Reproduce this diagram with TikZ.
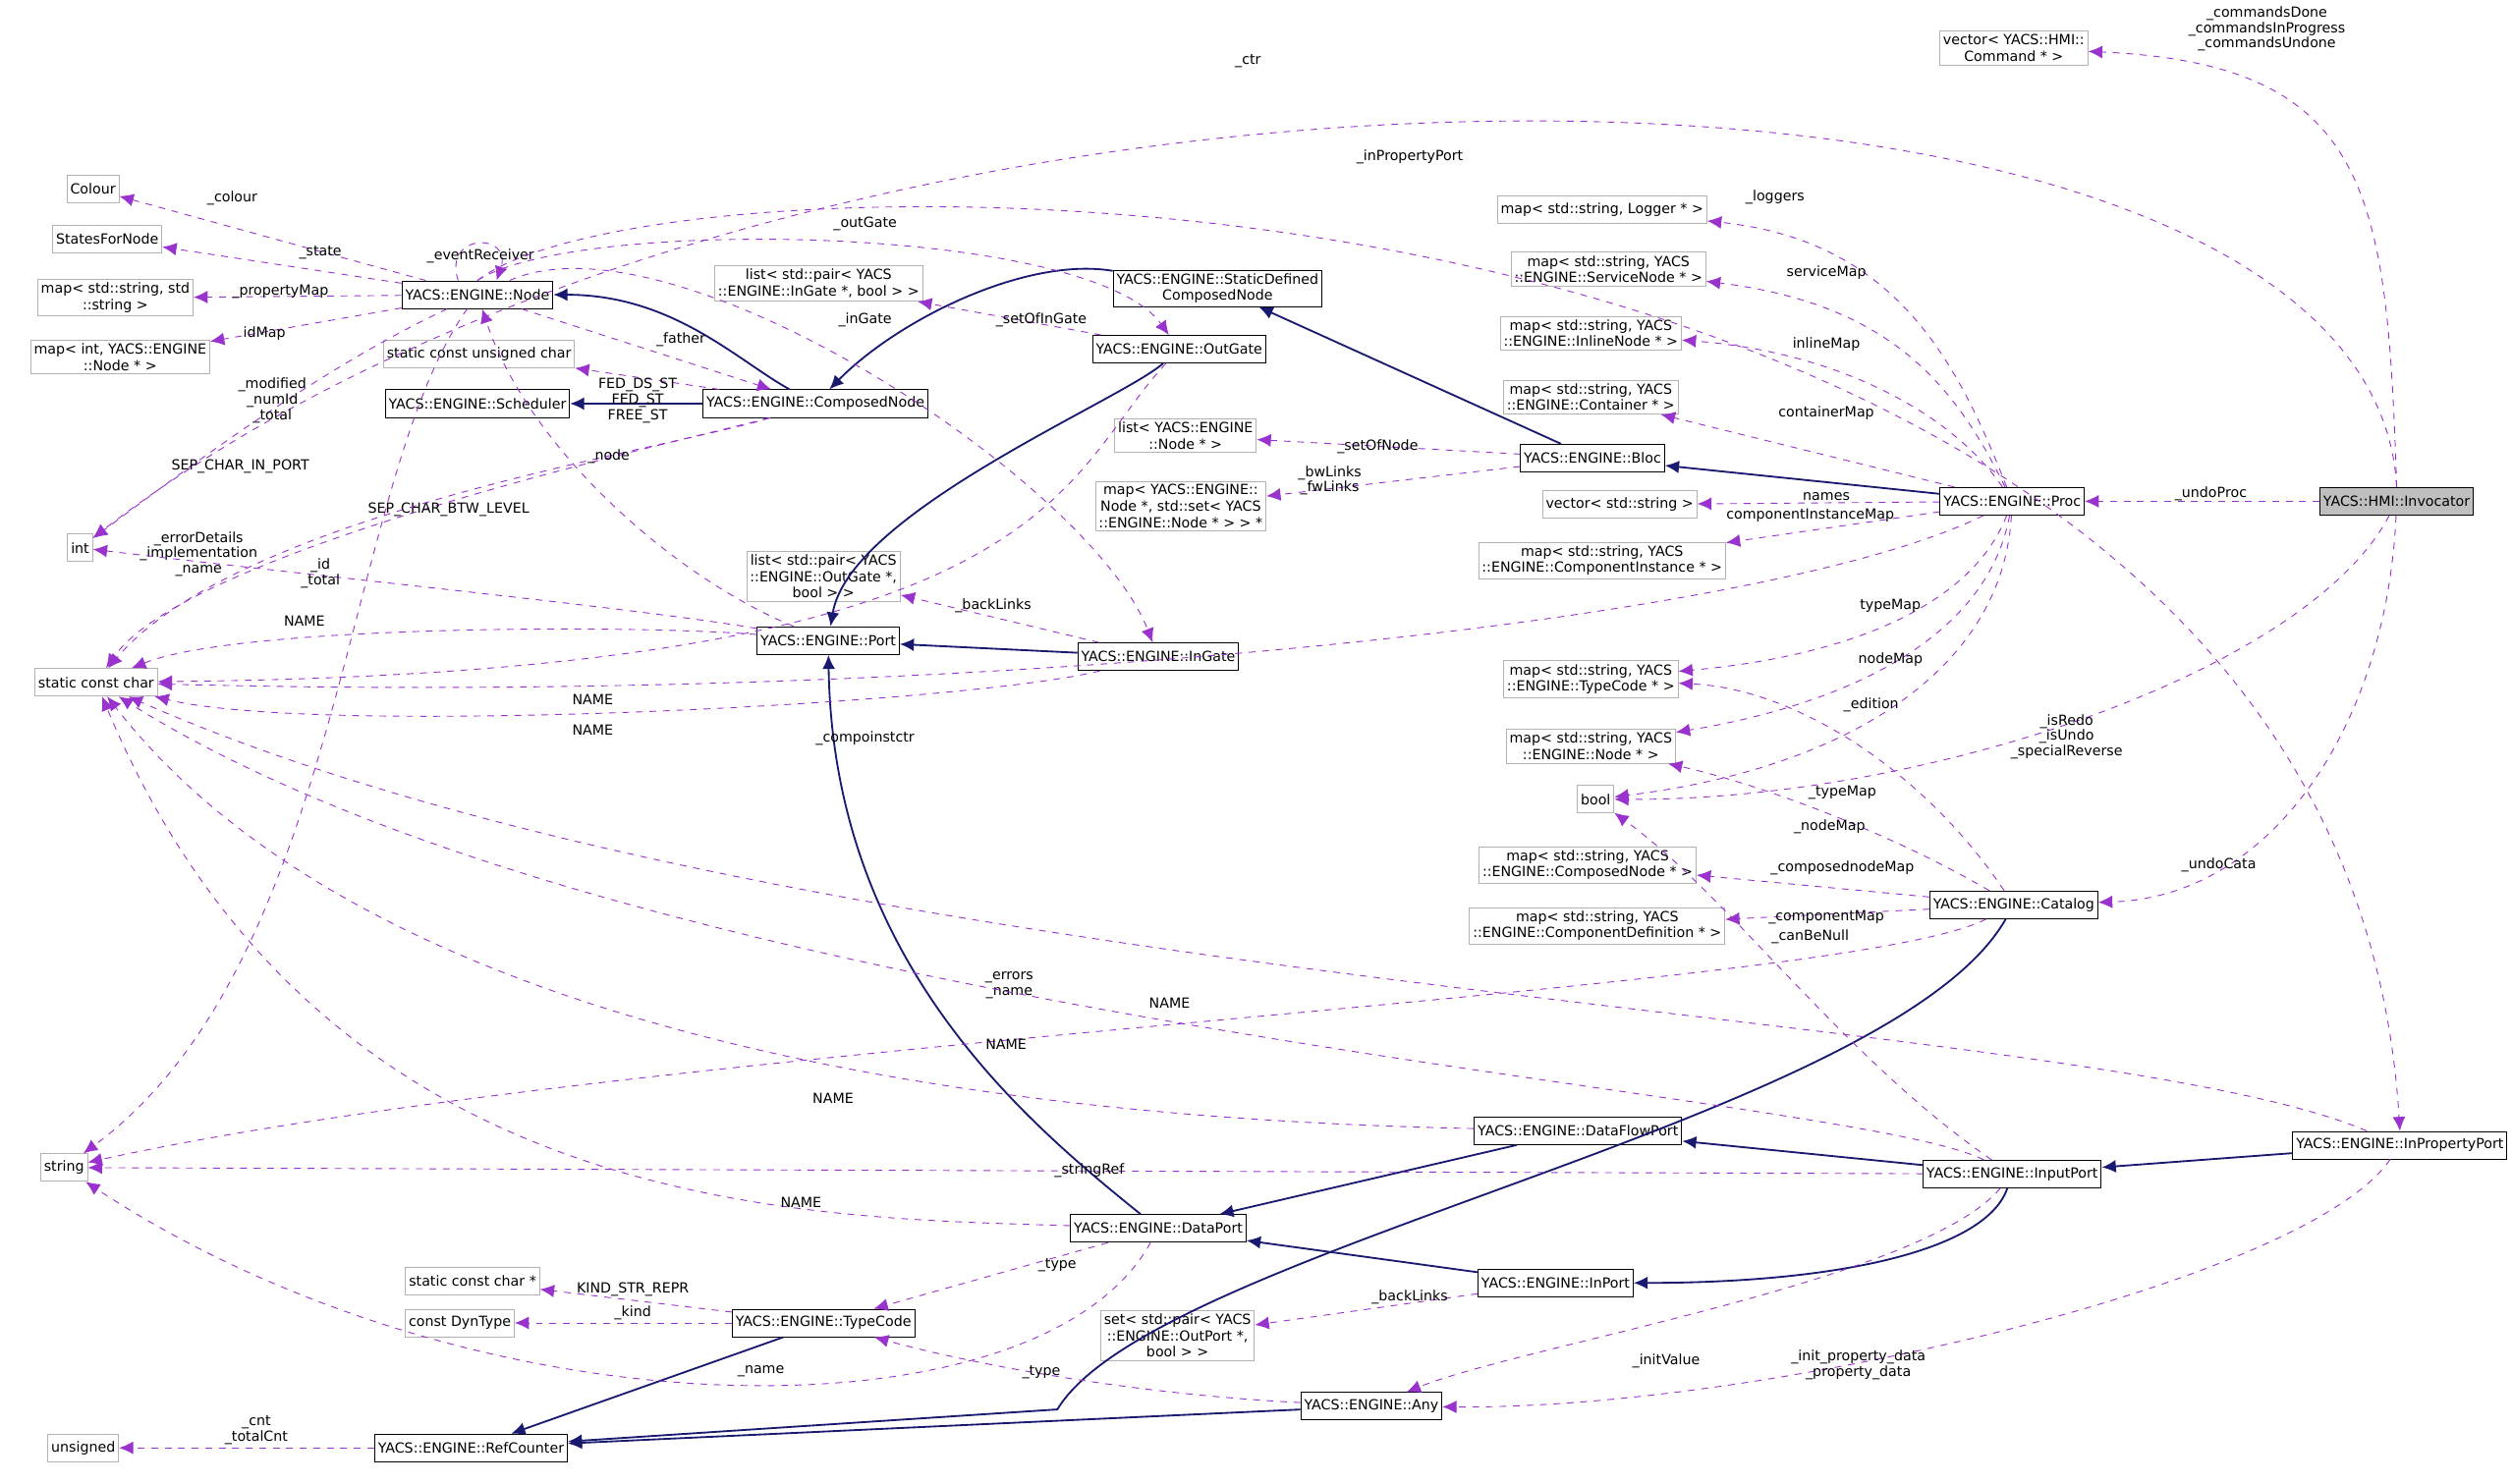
\documentclass[tikz,border=0pt]{standalone}
\usepackage{fontspec}
\setmainfont{DejaVu Sans}
\usetikzlibrary{arrows.meta}
\definecolor{navyc}{HTML}{191970}
\definecolor{usec}{HTML}{9A32CD}
\tikzset{
  cls/.style={draw=black,fill=white,font=\fontsize{6.2}{7.2}\selectfont,align=center,inner sep=1.5pt,minimum height=4.3mm},
  ext/.style={cls,draw=gray!60},
  inh/.style={draw=navyc,thick,-{Latex[length=2.2mm,width=2mm]}},
  use/.style={draw=usec,dashed,-{Latex[length=2.2mm,width=2mm]}},
  lbl/.style={font=\fontsize{6.2}{6.9}\selectfont,align=center,inner sep=0pt}
}
\begin{document}
\begin{tikzpicture}[x=0.25mm,y=-0.25mm]
\useasboundingbox (0,0) rectangle (1568,926);
% classes
\node[cls] (node) at (298,184) {YACS::ENGINE::Node};
\node[cls] (sched) at (298,252) {YACS::ENGINE::Scheduler};
\node[cls] (cnode) at (509,252) {YACS::ENGINE::ComposedNode};
\node[cls] (sdcn) at (760,180) {YACS::ENGINE::StaticDefined\\ComposedNode};
\node[cls] (outgate) at (736,218) {YACS::ENGINE::OutGate};
\node[cls] (bloc) at (994,286) {YACS::ENGINE::Bloc};
\node[cls] (proc) at (1256,313) {YACS::ENGINE::Proc};
\node[cls,fill=gray!50] (invoc) at (1496,313) {YACS::HMI::Invocator};
\node[cls] (port) at (517,400) {YACS::ENGINE::Port};
\node[cls] (ingate) at (723,410) {YACS::ENGINE::InGate};
\node[cls] (catalog) at (1257,565) {YACS::ENGINE::Catalog};
\node[cls] (inprop) at (1498,715) {YACS::ENGINE::InPropertyPort};
\node[cls] (dfport) at (985,706) {YACS::ENGINE::DataFlowPort};
\node[cls] (inputport) at (1256,733) {YACS::ENGINE::InputPort};
\node[cls] (dataport) at (723,767) {YACS::ENGINE::DataPort};
\node[cls] (inport) at (971,801) {YACS::ENGINE::InPort};
\node[cls] (tcode) at (514,826) {YACS::ENGINE::TypeCode};
\node[cls] (any) at (856,878) {YACS::ENGINE::Any};
\node[cls] (refc) at (294,904) {YACS::ENGINE::RefCounter};
% external types
\node[ext] (vcmd) at (1257,30) {vector< YACS::HMI::\\Command * >};
\node[ext] (colour) at (58,118) {Colour};
\node[ext] (states) at (67,149) {StatesForNode};
\node[ext] (mapss) at (72,186) {map< std::string, std\\::string >};
\node[ext] (mapint) at (75,223) {map< int, YACS::ENGINE\\::Node * >};
\node[ext] (scuc) at (299,221) {static const unsigned char};
\node[ext] (lpig) at (511,177) {list< std::pair< YACS\\::ENGINE::InGate *, bool > >};
\node[ext] (int) at (50,342) {int};
\node[ext] (lnode) at (740,272) {list< YACS::ENGINE\\::Node * >};
\node[ext] (mapnn) at (737,316) {map< YACS::ENGINE::\\Node *, std::set< YACS\\::ENGINE::Node * > > *};
\node[ext] (mlog) at (1000,131) {map< std::string, Logger * >};
\node[ext] (msrv) at (1004,168) {map< std::string, YACS\\::ENGINE::ServiceNode * >};
\node[ext] (minl) at (993,208) {map< std::string, YACS\\::ENGINE::InlineNode * >};
\node[ext] (mcont) at (993,248) {map< std::string, YACS\\::ENGINE::Container * >};
\node[ext] (vstr) at (1011,315) {vector< std::string >};
\node[ext] (mcomp) at (1000,350) {map< std::string, YACS\\::ENGINE::ComponentInstance * >};
\node[ext] (lpog) at (514,360) {list< std::pair< YACS\\::ENGINE::OutGate *,\\bool > >};
\node[ext] (scc) at (60,426) {static const char};
\node[ext] (mtc) at (993,424) {map< std::string, YACS\\::ENGINE::TypeCode * >};
\node[ext] (mnode) at (993,466) {map< std::string, YACS\\::ENGINE::Node * >};
\node[ext] (bool) at (996,499) {bool};
\node[ext] (mcn) at (991,540) {map< std::string, YACS\\::ENGINE::ComposedNode * >};
\node[ext] (mcd) at (997,578) {map< std::string, YACS\\::ENGINE::ComponentDefinition * >};
\node[ext] (string) at (40,729) {string};
\node[ext] (sccs) at (295,800) {static const char *};
\node[ext] (dyntype) at (287,826) {const DynType};
\node[ext] (setop) at (735,834) {set< std::pair< YACS\\::ENGINE::OutPort *,\\bool > >};
\node[ext] (unsigned) at (52,904) {unsigned};
% inheritance
\draw[inh] (cnode) .. controls (460,225) and (420,184) .. (node);
\draw[inh] (cnode) -- (sched);
\draw[inh] (sdcn) .. controls (640,160) and (560,200) .. (cnode);
\draw[inh] (bloc) -- (sdcn);
\draw[inh] (proc) -- (bloc);
\draw[inh] (outgate) .. controls (700,250) and (530,320) .. (port);
\draw[inh] (ingate) -- (port);
\draw[inh] (dataport) .. controls (640,700) and (520,600) .. (port);
\draw[inh] (dfport) -- (dataport);
\draw[inh] (inport) -- (dataport);
\draw[inh] (inputport) -- (dfport);
\draw[inh] (inputport) .. controls (1240,780) and (1150,801) .. (inport);
\draw[inh] (inprop) -- (inputport);
\draw[inh] (tcode) -- (refc);
\draw[inh] (any) -- (refc);
\draw[inh] (catalog) .. controls (1180,700) and (720,780) .. (660,880) -- (refc);
% usage
\draw[use] (invoc.north) .. controls (1490,120) and (1480,40) .. (vcmd);
\node[lbl] (l1) at (1415,18) {\_commandsDone\\\_commandsInProgress\\\_commandsUndone};
\draw[use] (invoc) -- (proc); \node[lbl] (l2) at (1380,308) {\_undoProc};
\draw[use] (invoc) .. controls (1490,450) and (1420,560) .. (catalog); \node[lbl] (l3) at (1385,540) {\_undoCata};
\draw[use] (invoc) .. controls (1440,420) and (1200,500) .. (bool); \node[lbl] (l4) at (1290,460) {\_isRedo\\\_isUndo\\\_specialReverse};
\draw[use] (invoc.north) .. controls (1480,-5) and (500,-5) .. (int); \node[lbl] (l5) at (779,38) {\_ctr};
\draw[use] (node) -- (colour); \node[lbl] (l6) at (145,124) {\_colour};
\draw[use] (node) -- (states); \node[lbl] (l7) at (200,158) {\_state};
\draw[use] (node) -- (mapss); \node[lbl] (l8) at (175,182) {\_propertyMap};
\draw[use] (node) -- (mapint); \node[lbl] (l9) at (165,208) {idMap};
\draw[use] (node) .. controls (200,230) and (120,290) .. (int); \node[lbl] (l10) at (170,250) {\_modified\\\_numId\\\_total};
\draw[use] (node) .. controls (215,300) and (215,600) .. (string); \node[lbl] (l11) at (124,346) {\_errorDetails\\\_implementation\\\_name};
\draw[use] ([xshift=-3mm]node.north) .. controls +(-10,-30) and +(10,-30) .. ([xshift=3mm]node.north); \node[lbl] (l12) at (300,160) {\_eventReceiver};
\draw[use] (node.north) .. controls (360,135) and (680,140) .. (outgate); \node[lbl] (l13) at (540,140) {\_outGate};
\draw[use] (node) .. controls (420,130) and (680,300) .. (ingate); \node[lbl] (l14) at (540,200) {\_inGate};
\draw[use] (node) -- (cnode); \node[lbl] (l15) at (425,212) {\_father};
\draw[use] (node.north) .. controls (420,80) and (1460,80) .. (inprop.north); \node[lbl] (l16) at (880,98) {\_inPropertyPort};
\draw[use] (cnode) -- (scuc); \node[lbl] (l17) at (398,250) {FED\_DS\_ST\\FED\_ST\\FREE\_ST};
\draw[use] (cnode) .. controls (450,270) and (120,340) .. (scc); \node[lbl] (l18) at (280,318) {SEP\_CHAR\_BTW\_LEVEL};
\draw[use] (cnode) .. controls (420,280) and (150,320) .. (scc); \node[lbl] (l19) at (150,291) {SEP\_CHAR\_IN\_PORT};
\draw[use] (port) .. controls (420,360) and (330,280) .. (node); \node[lbl] (l20) at (380,285) {\_node};
\draw[use] (port) .. controls (400,380) and (200,360) .. (int); \node[lbl] (l21) at (200,358) {\_id\\\_total};
\draw[use] (port) .. controls (400,390) and (150,390) .. (scc); \node[lbl] (l22) at (190,388) {NAME};
\draw[use] (outgate) -- (lpig); \node[lbl] (l23) at (650,200) {\_setOfInGate};
\draw[use] (outgate) .. controls (660,300) and (660,420) .. (scc); \node[lbl] (l24) at (370,437) {NAME};
\draw[use] (ingate) -- (lpog); \node[lbl] (l25) at (620,378) {\_backLinks};
\draw[use] (ingate) .. controls (600,440) and (200,460) .. (scc); \node[lbl] (l26) at (370,456) {NAME};
\draw[use] (bloc) -- (lnode); \node[lbl] (l27) at (860,279) {\_setOfNode};
\draw[use] (bloc) -- (mapnn); \node[lbl] (l28) at (830,300) {\_bwLinks\\\_fwLinks};
\draw[use] (proc) .. controls (1220,220) and (1180,150) .. (mlog); \node[lbl] (l29) at (1108,123) {\_loggers};
\draw[use] (proc) .. controls (1220,240) and (1180,190) .. (msrv); \node[lbl] (l30) at (1140,170) {serviceMap};
\draw[use] (proc) .. controls (1220,260) and (1150,220) .. (minl); \node[lbl] (l31) at (1140,215) {inlineMap};
\draw[use] (proc) -- (mcont); \node[lbl] (l32) at (1140,258) {containerMap};
\draw[use] (proc) -- (vstr); \node[lbl] (l33) at (1140,310) {names};
\draw[use] (proc) -- (mcomp); \node[lbl] (l34) at (1130,322) {componentInstanceMap};
\draw[use] (proc) .. controls (1230,380) and (1150,410) .. (mtc); \node[lbl] (l35) at (1180,378) {typeMap};
\draw[use] (proc) .. controls (1240,400) and (1150,440) .. (mnode); \node[lbl] (l36) at (1180,412) {nodeMap};
\draw[use] (proc) .. controls (1250,420) and (1150,480) .. (bool); \node[lbl] (l37) at (1168,440) {\_edition};
\draw[use] (proc) .. controls (1100,390) and (600,440) .. (scc); \node[lbl] (l38) at (540,461) {\_compoinstctr};
\draw[use] (catalog) .. controls (1200,480) and (1120,430) .. (mtc); \node[lbl] (l39) at (1150,495) {\_typeMap};
\draw[use] (catalog) .. controls (1180,520) and (1100,490) .. (mnode); \node[lbl] (l40) at (1142,516) {\_nodeMap};
\draw[use] (catalog) -- (mcn); \node[lbl] (l41) at (1150,542) {\_composednodeMap};
\draw[use] (catalog) -- (mcd); \node[lbl] (l42) at (1140,573) {\_componentMap};
\draw[use] (catalog) .. controls (1150,620) and (400,650) .. (string); \node[lbl] (l43) at (630,615) {\_errors\\\_name};
\draw[use] (inputport) .. controls (1150,660) and (1080,560) .. (bool); \node[lbl] (l44) at (1130,585) {\_canBeNull};
\draw[use] (inputport) .. controls (1150,680) and (400,640) .. (scc); \node[lbl] (l45) at (628,652) {NAME};
\draw[use] (inprop) .. controls (1300,630) and (500,620) .. (scc); \node[lbl] (l46) at (730,626) {NAME};
\draw[use] (inprop) .. controls (1440,800) and (1100,880) .. (any); \node[lbl] (l47) at (1160,852) {\_init\_property\_data\\\_property\_data};
\draw[use] (inputport) .. controls (1200,800) and (950,840) .. (any); \node[lbl] (l48) at (1040,850) {\_initValue};
\draw[use] (inputport) -- (string); \node[lbl] (l49) at (680,731) {\_stringRef};
\draw[use] (dfport) .. controls (700,700) and (250,670) .. (scc); \node[lbl] (l50) at (520,686) {NAME};
\draw[use] (dataport) .. controls (500,760) and (200,760) .. (scc); \node[lbl] (l51) at (500,751) {NAME};
\draw[use] (dataport) -- (tcode); \node[lbl] (l52) at (660,790) {\_type};
\draw[use] (dataport) .. controls (650,900) and (300,900) .. (string); \node[lbl] (l53) at (475,856) {\_name};
\draw[use] (inport) -- (setop); \node[lbl] (l54) at (880,810) {\_backLinks};
\draw[use] (tcode) -- (sccs); \node[lbl] (l55) at (395,805) {KIND\_STR\_REPR};
\draw[use] (tcode) -- (dyntype); \node[lbl] (l56) at (395,820) {\_kind};
\draw[use] (any) .. controls (700,870) and (600,850) .. (tcode); \node[lbl] (l57) at (650,857) {\_type};
\draw[use] (refc) -- (unsigned); \node[lbl] (l58) at (160,893) {\_cnt\\\_totalCnt};
\end{tikzpicture}
\end{document}
